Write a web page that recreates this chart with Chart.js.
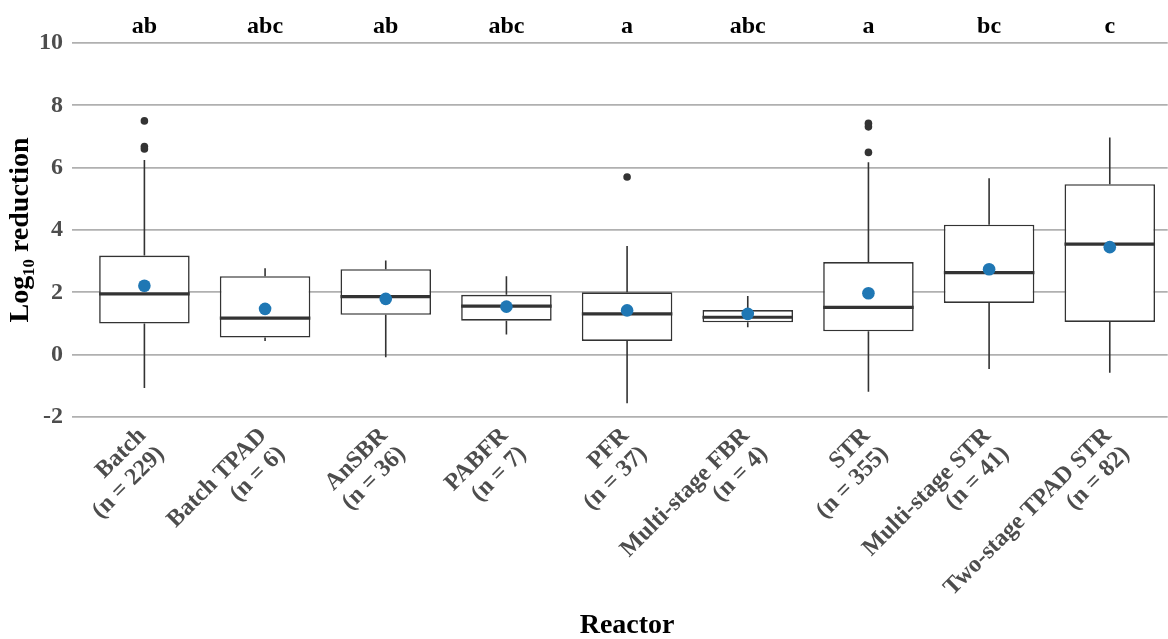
<!DOCTYPE html>
<html>
<head>
<meta charset="utf-8">
<script src="https://cdn.jsdelivr.net/npm/chart.js@4.4.1/dist/chart.umd.min.js"></script>
<style>
  html, body { margin: 0; padding: 0; background: #fff; overflow: hidden; }
  #wrap { width: 1174px; height: 639px; position: relative; }
</style>
</head>
<body>
<div id="wrap"><canvas id="boxChart"></canvas></div>
<script>
// categories and sample sizes
const reactorNames = ['Batch', 'Batch TPAD', 'AnSBR', 'PABFR', 'PFR', 'Multi-stage FBR', 'STR', 'Multi-stage STR', 'Two-stage TPAD STR'];
const sampleSizes = [229, 6, 36, 7, 37, 4, 355, 41, 82];
const groupLetters = ['ab', 'abc', 'ab', 'abc', 'a', 'abc', 'a', 'bc', 'c'];

// box statistics (Log10 reduction)
const whiskerLow  = [-1.07, 0.44, -0.08, 0.65, -1.56, 0.88, -1.19, -0.46, -0.58];
const q1          = [1.00, 0.55, 1.28, 1.09, 0.44, 1.04, 0.75, 1.66, 1.05];
const medians     = [1.95, 1.17, 1.86, 1.56, 1.31, 1.20, 1.52, 2.63, 3.55];
const q3          = [3.18, 2.52, 2.74, 1.92, 2.00, 1.43, 2.97, 4.17, 5.47];
const whiskerHigh = [6.25, 2.77, 3.02, 2.52, 3.49, 1.88, 6.17, 5.66, 6.97];
const means       = [2.21, 1.47, 1.79, 1.54, 1.42, 1.31, 1.97, 2.74, 3.45];
const outliers    = [[7.50, 6.68, 6.60], [], [], [], [5.70], [], [7.42, 7.31, 6.49], [], []];

// y axis ticks
const yMin = -2;
const yMax = 10;
const yLabelStep = 2;

const serif = "'Liberation Serif', 'Times New Roman', serif";
const boxColor = '#333333';

const tickLabels = reactorNames.map((name, i) => [name, '(n = ' + sampleSizes[i] + ')']);

const boxData = reactorNames.map((_, i) => ({ x: i, y: [q1[i], q3[i]] }));
const meanData = means.map((m, i) => ({ x: i, y: m }));
const outlierData = [];
outliers.forEach((list, i) => list.forEach(v => outlierData.push({ x: i, y: v })));

// whiskers under the boxes, medians, letters and x title on top
const boxExtras = {
    id: 'boxExtras',
    beforeDatasetsDraw(chart) {
        const ctx = chart.ctx;
        const xs = chart.scales.x, ys = chart.scales.y;
        ctx.save();
        ctx.strokeStyle = boxColor;
        ctx.lineWidth = 1.6;
        reactorNames.forEach((_, i) => {
            const px = xs.getPixelForValue(i);
            ctx.beginPath();
            ctx.moveTo(px, ys.getPixelForValue(whiskerLow[i]));
            ctx.lineTo(px, ys.getPixelForValue(q1[i]));
            ctx.moveTo(px, ys.getPixelForValue(q3[i]));
            ctx.lineTo(px, ys.getPixelForValue(whiskerHigh[i]));
            ctx.stroke();
        });
        ctx.restore();
    },
    afterDatasetDraw(chart, args) {
        if (args.index !== 0) return;
        const ctx = chart.ctx;
        const ys = chart.scales.y;
        const meta = chart.getDatasetMeta(0);
        ctx.save();
        ctx.strokeStyle = boxColor;
        ctx.lineWidth = 3.2;
        meta.data.forEach((bar, i) => {
            const half = bar.width / 2;
            const py = ys.getPixelForValue(medians[i]);
            ctx.beginPath();
            ctx.moveTo(bar.x - half, py);
            ctx.lineTo(bar.x + half, py);
            ctx.stroke();
        });
        ctx.restore();
    },
    afterDraw(chart) {
        const ctx = chart.ctx;
        const xs = chart.scales.x;
        ctx.save();
        ctx.fillStyle = '#000';
        ctx.font = 'bold 24px ' + serif;
        ctx.textAlign = 'center';
        ctx.textBaseline = 'alphabetic';
        groupLetters.forEach((txt, i) => {
            ctx.fillText(txt, xs.getPixelForValue(i), chart.chartArea.top - 10);
        });
        // axis title centred under the middle category, like the panel centre
        ctx.font = 'bold 28px ' + serif;
        ctx.fillText('Reactor', xs.getPixelForValue((reactorNames.length - 1) / 2), xs.bottom - 6);
        ctx.restore();
    }
};

new Chart(document.getElementById('boxChart'), {
    type: 'bar',
    data: {
        datasets: [
            {
                type: 'bar',
                label: 'box',
                data: boxData,
                backgroundColor: '#ffffff',
                borderColor: boxColor,
                borderWidth: 1.6,
                borderSkipped: false,
                barPercentage: 0.75,
                categoryPercentage: 1,
                order: 3
            },
            {
                type: 'scatter',
                label: 'outliers',
                data: outlierData,
                pointRadius: 3.8,
                pointBackgroundColor: boxColor,
                pointBorderWidth: 0,
                order: 2
            },
            {
                type: 'scatter',
                label: 'mean',
                data: meanData,
                pointRadius: 6.3,
                pointBackgroundColor: '#1f77b4',
                pointBorderWidth: 0,
                order: 1
            }
        ]
    },
    options: {
        responsive: true,
        maintainAspectRatio: false,
        animation: false,
        layout: { padding: { top: 43, right: 0, left: 0, bottom: 0 } },
        plugins: {
            legend: { display: false },
            tooltip: { enabled: false }
        },
        scales: {
            x: {
                type: 'linear',
                offset: false,
                min: -0.6,
                max: 8.48,
                border: { display: false },
                grid: { display: false, drawTicks: false },
                ticks: {
                    stepSize: 1,
                    includeBounds: false,
                    autoSkip: false,
                    minRotation: 45,
                    maxRotation: 45,
                    padding: 6,
                    labelOffset: -2,
                    color: '#4d4d4d',
                    font: { family: serif, size: 24, weight: 'bold', lineHeight: 1.08 },
                    callback: function(value) {
                        return Number.isInteger(value) && tickLabels[value] ? tickLabels[value] : '';
                    }
                },
                afterFit: function(scale) {
                    scale.height = 222;
                }
            },
            y: {
                min: yMin,
                max: yMax,
                border: { display: false },
                grid: {
                    drawTicks: false,
                    color: ctx => (ctx.tick && ctx.tick.value % yLabelStep === 0) ? '#b0b0b0' : '#e8e8e8',
                    lineWidth: ctx => (ctx.tick && ctx.tick.value % yLabelStep === 0) ? 1.8 : 1.2
                },
                ticks: {
                    stepSize: 1,
                    padding: 9,
                    color: '#4d4d4d',
                    font: { family: serif, size: 24, weight: 'bold' },
                    callback: function(value) {
                        return value % yLabelStep === 0 ? String(value) : '';
                    }
                },
                title: {
                    display: true,
                    text: 'Log₁₀ reduction',
                    color: '#000',
                    font: { family: serif, size: 28, weight: 'bold' },
                    padding: { top: 4, bottom: 0 }
                },
                afterFit: function(scale) { scale.width = 72; }
            }
        }
    },
    plugins: [boxExtras]
});
</script>
</body>
</html>
